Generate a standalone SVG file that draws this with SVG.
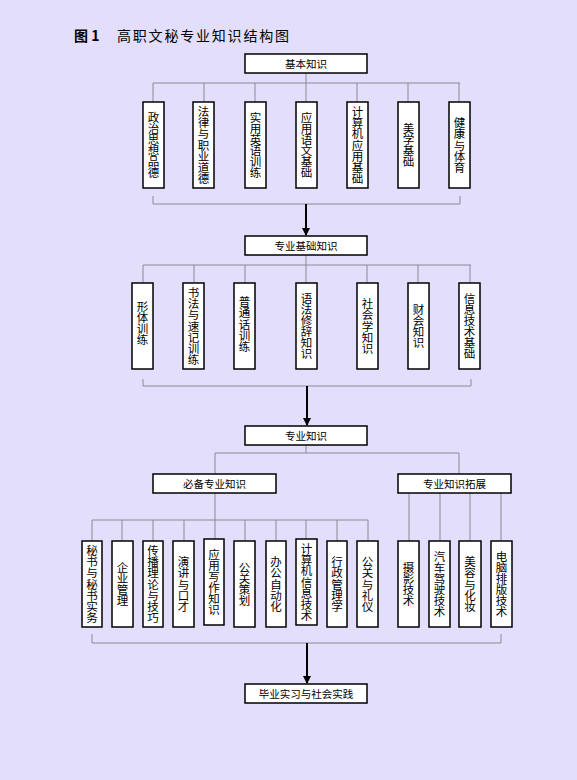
<svg xmlns="http://www.w3.org/2000/svg" width="577" height="780" viewBox="0 0 577 780">
<defs>
<style>
.bg{fill:#E2DEFB}
.box{fill:#fff;stroke:#000;stroke-width:1.5}
.ln{fill:none;stroke:#8a8a96;stroke-width:1}
.ar{fill:none;stroke:#000;stroke-width:2}
.h{font-family:"Noto Sans CJK SC","Liberation Sans",sans-serif;font-size:10.5px;fill:#000;text-anchor:middle;dominant-baseline:central}
.v{font-family:"Noto Sans CJK SC","Liberation Sans",sans-serif;font-size:11.5px;fill:#000;writing-mode:vertical-rl;text-anchor:middle;dominant-baseline:central;letter-spacing:-0.4px}
.t{font-family:"Noto Sans CJK SC","Liberation Sans",sans-serif;font-size:14px;fill:#000}
</style>
<marker id="ah" viewBox="0 0 8 8" refX="7" refY="4" markerWidth="8" markerHeight="8" markerUnits="userSpaceOnUse" orient="auto">
<path d="M0,0 L8,4 L0,8 Z" fill="#000"/>
</marker>
</defs>
<rect class="bg" x="0" y="0" width="577" height="780"/>
<text class="t" x="74" y="41"><tspan font-weight="bold">图 1</tspan><tspan x="117" letter-spacing="1.8">高职文秘专业知识结构图</tspan></text>

<g id="connectors">
<!-- top section -->
<path class="ln" d="M306,73 V83 M153,83 H460 M153,83 V102 M204,83 V102 M255,83 V102 M306,83 V102 M357,83 V102 M408,83 V102 M459,83 V102"/>
<path class="ln" d="M153,196 V204 H460 V196"/>
<line class="ar" x1="306" y1="204" x2="306" y2="235" marker-end="url(#ah)"/>
<!-- second section -->
<path class="ln" d="M306,255 V265 M143,265 H471 M143,265 V283 M194,265 V283 M245,265 V283 M306,265 V283 M367,265 V283 M418,265 V283 M470,265 V283"/>
<path class="ln" d="M143,379 V386 H471 V379"/>
<line class="ar" x1="307" y1="386" x2="307" y2="425" marker-end="url(#ah)"/>
<!-- professional -->
<path class="ln" d="M306,445 V453 M215,453 H459 M215,453 V474 M459,453 V474"/>
<path class="ln" d="M215,493 V520 M92,520 H368 M92,520 V541 M122,520 V541 M153,520 V541 M184,520 V541 M215,520 V539 M245,520 V541 M276,520 V541 M306,520 V539 M337,520 V541 M368,520 V541"/>
<path class="ln" d="M409,493 V541 M440,493 V541 M470,493 V541 M501,493 V541"/>
<path class="ln" d="M92,634 V643 H501 V634"/>
<line class="ar" x1="307" y1="643" x2="307" y2="683" marker-end="url(#ah)"/>
</g>

<g id="n-jiben"><rect class="box" x="245" y="54" width="122" height="19"/><text class="h" x="306" y="63.5">基本知识</text></g>
<g id="n-a1"><rect class="box" x="143" y="102" width="21" height="86"/><text class="v" x="153.5" y="145">政治思想品德</text></g>
<g id="n-a2"><rect class="box" x="193" y="102" width="21" height="86"/><text class="v" x="203.5" y="145">法律与职业道德</text></g>
<g id="n-a3"><rect class="box" x="245" y="102" width="21" height="86"/><text class="v" x="255.5" y="145">实用英语训练</text></g>
<g id="n-a4"><rect class="box" x="296" y="102" width="21" height="86"/><text class="v" x="306.5" y="145">应用语文基础</text></g>
<g id="n-a5"><rect class="box" x="347" y="102" width="21" height="86"/><text class="v" x="357.5" y="145">计算机应用基础</text></g>
<g id="n-a6"><rect class="box" x="398" y="102" width="21" height="86"/><text class="v" x="408.5" y="145">美学基础</text></g>
<g id="n-a7"><rect class="box" x="449" y="102" width="21" height="86"/><text class="v" x="459.5" y="145">健康与体育</text></g>

<g id="n-zyjc"><rect class="box" x="245" y="236" width="122" height="19"/><text class="h" x="306" y="245.5">专业基础知识</text></g>
<g id="n-b1"><rect class="box" x="132" y="283" width="21" height="86"/><text class="v" x="142.5" y="323">形体训练</text></g>
<g id="n-b2"><rect class="box" x="183" y="283" width="21" height="86"/><text class="v" x="193.5" y="326">书法与速记训练</text></g>
<g id="n-b3"><rect class="box" x="234" y="283" width="21" height="86"/><text class="v" x="244.5" y="324">普通话训练</text></g>
<g id="n-b4"><rect class="box" x="296" y="283" width="21" height="86"/><text class="v" x="306.5" y="326">语法修辞知识</text></g>
<g id="n-b5"><rect class="box" x="357" y="283" width="21" height="86"/><text class="v" x="367.5" y="326">社会学知识</text></g>
<g id="n-b6"><rect class="box" x="408" y="283" width="21" height="86"/><text class="v" x="418.5" y="326">财会知识</text></g>
<g id="n-b7"><rect class="box" x="459" y="283" width="21" height="86"/><text class="v" x="469.5" y="326">信息技术基础</text></g>

<g id="n-zy"><rect class="box" x="245" y="426" width="122" height="19"/><text class="h" x="306" y="435.5">专业知识</text></g>
<g id="n-bb"><rect class="box" x="153" y="474" width="123" height="19"/><text class="h" x="214.5" y="483.5">必备专业知识</text></g>
<g id="n-tz"><rect class="box" x="398" y="474" width="113" height="19"/><text class="h" x="454.5" y="483.5">专业知识拓展</text></g>

<g id="n-c1"><rect class="box" x="82" y="541" width="20" height="86"/><text class="v" x="92" y="584">秘书与秘书实务</text></g>
<g id="n-c2"><rect class="box" x="112" y="541" width="21" height="86"/><text class="v" x="122.5" y="584">企业管理</text></g>
<g id="n-c3"><rect class="box" x="143" y="541" width="20" height="86"/><text class="v" x="153" y="584">传播理论与技巧</text></g>
<g id="n-c4"><rect class="box" x="173" y="541" width="21" height="86"/><text class="v" x="183.5" y="584">演讲与口才</text></g>
<g id="n-c5"><rect class="box" x="204" y="539" width="20" height="86"/><text class="v" x="214" y="582">应用写作知识</text></g>
<g id="n-c6"><rect class="box" x="234" y="541" width="21" height="86"/><text class="v" x="244.5" y="584">公关策划</text></g>
<g id="n-c7"><rect class="box" x="266" y="541" width="20" height="86"/><text class="v" x="276" y="584">办公自动化</text></g>
<g id="n-c8"><rect class="box" x="296" y="539" width="21" height="86"/><text class="v" x="306.5" y="582">计算机信息技术</text></g>
<g id="n-c9"><rect class="box" x="327" y="541" width="20" height="86"/><text class="v" x="337" y="584">行政管理学</text></g>
<g id="n-c10"><rect class="box" x="357" y="541" width="21" height="86"/><text class="v" x="367.5" y="584">公关与礼仪</text></g>

<g id="n-d1"><rect class="box" x="398" y="541" width="21" height="86"/><text class="v" x="408.5" y="584">摄影技术</text></g>
<g id="n-d2"><rect class="box" x="429" y="541" width="21" height="86"/><text class="v" x="439.5" y="584">汽车驾驶技术</text></g>
<g id="n-d3"><rect class="box" x="459" y="541" width="22" height="86"/><text class="v" x="470" y="584">美容与化妆</text></g>
<g id="n-d4"><rect class="box" x="491" y="541" width="21" height="86"/><text class="v" x="501.5" y="584">电脑排版技术</text></g>

<g id="n-by"><rect class="box" x="245" y="684" width="122" height="19"/><text class="h" x="306" y="693.5">毕业实习与社会实践</text></g>
</svg>
